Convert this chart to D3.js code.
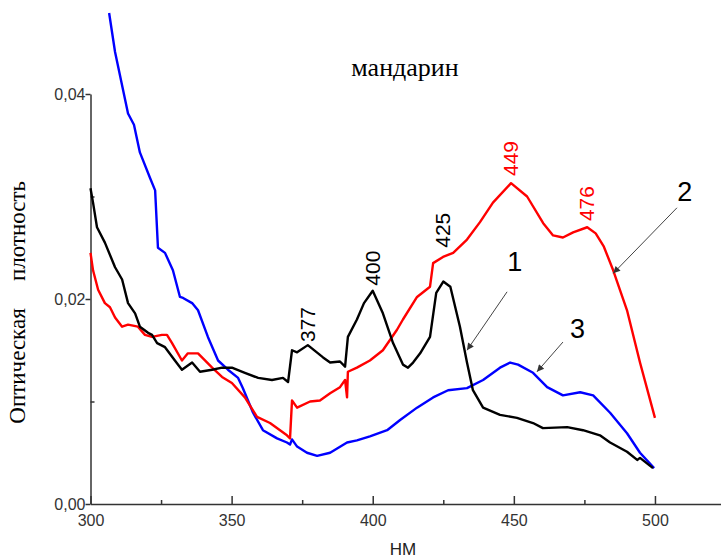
<!DOCTYPE html>
<html>
<head>
<meta charset="utf-8">
<script src="https://cdn.jsdelivr.net/npm/d3@7"></script>
<style>
  html, body { margin: 0; padding: 0; background: #fff; }
  svg { display: block; }
</style>
</head>
<body>
<svg id="chart" width="721" height="560"></svg>
<script>
// Absorption spectra of mandarin extracts: wavelength (nm) vs optical density

// Curve 1 (black)
const wl1 = [300, 300.9, 302.3, 305.1, 308.7, 311.2, 313.3, 315.8, 317.5, 320.4, 321.8, 323.6, 326.4, 329.9,
  332.4, 336.0, 338.8, 343.1, 346.6, 350.1, 354.7, 359.4, 364.3, 368.2, 370.0, 371.4, 373.2, 377.0,
  382.4, 384.9, 388.4, 390.2, 391.2, 394.4, 396.9, 400.0, 403.6, 407.2, 410.7, 412.5, 414.3, 416.8,
  420.3, 422.5, 425.0, 427.5, 430.9, 433.4, 435.5, 439.1, 445.1, 451.1, 456.8, 460.3, 468.9, 474.5,
  480.5, 484.1, 490.1, 493.7, 494.7, 499.3];
const od1 = [0.0308, 0.0294, 0.0270, 0.0255, 0.0231, 0.0219, 0.0196, 0.0186, 0.0173, 0.0167, 0.0165, 0.0157,
  0.0153, 0.0140, 0.0131, 0.0138, 0.0129, 0.0131, 0.0133, 0.0133, 0.0128, 0.0123, 0.0121, 0.0123, 0.0119,
  0.0150, 0.0148, 0.0155, 0.0143, 0.0138, 0.0139, 0.0134, 0.0163, 0.0180, 0.0196, 0.0208, 0.0186, 0.0157,
  0.0136, 0.0133, 0.0138, 0.0147, 0.0163, 0.0206, 0.0217, 0.0212, 0.0173, 0.0138, 0.0111, 0.0094, 0.0087,
  0.0084, 0.0079, 0.0074, 0.0075, 0.0072, 0.0067, 0.0060, 0.0051, 0.0043, 0.0045, 0.0035];

// Curve 2 (red)
const wl2 = [300, 300.9, 302.7, 305.1, 306.9, 308.7, 311.2, 313.3, 316.8, 319.3, 321.8, 325.3, 327.1, 328.9,
  332.4, 334.5, 338.1, 343.1, 346.6, 350.1, 354.7, 359.0, 363.6, 369.6, 370.7, 371.4, 373.2, 377.8,
  381.3, 384.9, 388.4, 390.2, 390.9, 391.2, 394.4, 399.0, 403.6, 408.6, 410.7, 415.7, 420.3, 421.4,
  424.9, 428.5, 433.4, 438.0, 442.6, 449.0, 454.7, 460.4, 463.9, 467.4, 471.0, 476.0, 479.0, 481.9,
  485.2, 490.1, 494.7, 500.0];
const od2 = [0.0245, 0.0228, 0.0209, 0.0196, 0.0192, 0.0182, 0.0173, 0.0175, 0.0173, 0.0165, 0.0163, 0.0165,
  0.0165, 0.0157, 0.0140, 0.0147, 0.0147, 0.0133, 0.0124, 0.0118, 0.0104, 0.0085, 0.0079, 0.0067, 0.0064,
  0.0101, 0.0094, 0.0100, 0.0101, 0.0108, 0.0114, 0.0121, 0.0104, 0.0129, 0.0133, 0.0140, 0.0150, 0.0170,
  0.0180, 0.0202, 0.0212, 0.0235, 0.0241, 0.0245, 0.0258, 0.0275, 0.0294, 0.0313, 0.0300, 0.0274, 0.0262,
  0.0260, 0.0265, 0.0270, 0.0264, 0.0251, 0.0228, 0.0189, 0.0138, 0.0084];

// Curve 3 (blue)
const wl3 = [306.6, 308.7, 313.3, 315.4, 317.5, 321.1, 322.9, 323.9, 326.4, 329.2, 331.7, 332.8, 336.0, 338.1,
  341.6, 345.2, 348.7, 352.3, 354.0, 357.6, 361.1, 366.1, 369.6, 370.7, 371.4, 373.2, 376.7, 380.3,
  384.9, 390.9, 394.4, 399.0, 405.1, 409.7, 415.7, 421.4, 426.7, 433.4, 439.1, 445.1, 448.7, 451.5,
  456.8, 461.8, 467.4, 473.5, 478.1, 484.1, 490.1, 494.7, 499.7];
const od3 = [0.0479, 0.0441, 0.0381, 0.0370, 0.0343, 0.0318, 0.0306, 0.0250, 0.0245, 0.0228, 0.0202, 0.0201,
  0.0196, 0.0189, 0.0163, 0.0140, 0.0131, 0.0123, 0.0113, 0.0089, 0.0072, 0.0064, 0.0060, 0.0058, 0.0063,
  0.0056, 0.0050, 0.0047, 0.0050, 0.0060, 0.0062, 0.0066, 0.0072, 0.0082, 0.0094, 0.0104, 0.0111, 0.0113,
  0.0121, 0.0133, 0.0138, 0.0136, 0.0128, 0.0114, 0.0106, 0.0109, 0.0106, 0.0089, 0.0069, 0.0050, 0.0035];

// Axis ticks
const xMajorTicks = [300, 350, 400, 450, 500];
const xMinorTicks = [325, 375, 425, 475];
const yMajorTicks = [0.00, 0.02, 0.04];
const yMinorTicks = [0.01, 0.03];

// Peak wavelengths and the optical density where each label starts
const peakText = ["377", "400", "425", "449", "476"];
const peakNm = [377, 400, 425, 449, 476];
const peakLabelOd = [0.0158, 0.0213, 0.0250, 0.0320, 0.0276];
const peakCurve = [0, 0, 0, 1, 1];

// Curve number callouts: label position and arrow (nm, optical density)
const calloutText = ["1", "2", "3"];
const calloutNm = [450.3, 510.6, 472.6];
const calloutOd = [0.0227, 0.0296, 0.0162];
const arrowFromNm = [447.6, 507.8, 467.4];
const arrowFromOd = [0.0207, 0.0289, 0.0158];
const arrowToNm = [433.4, 485.2, 458.2];
const arrowToOd = [0.0150, 0.0225, 0.0129];

const curveColors = ["#000000", "#ff0000", "#0000ff"];

const svg = d3.select("#chart");
const x = d3.scaleLinear().domain([300, 523.4]).range([90.5, 721]);
const y = d3.scaleLinear().domain([0, 0.04]).range([504, 94]);

const axisColor = "#333";
const tickFont = "'Liberation Sans', Arial, sans-serif";
const serifFont = "'Liberation Serif', 'Times New Roman', serif";

// X axis
const gx = svg.append("g").attr("transform", `translate(0,${y(0)})`)
  .call(d3.axisBottom(x).tickValues(xMajorTicks).tickSize(-8).tickSizeOuter(0)
    .tickPadding(11).tickFormat(d3.format("d")));
gx.selectAll("text").attr("font-size", 16).attr("font-family", tickFont).attr("fill", axisColor);
svg.append("g").attr("transform", `translate(0,${y(0)})`)
  .call(d3.axisBottom(x).tickValues(xMinorTicks).tickSize(-4).tickSizeOuter(0).tickFormat(""))
  .select(".domain").remove();

// Y axis
const gy = svg.append("g").attr("transform", `translate(${x(300)},0)`)
  .call(d3.axisLeft(y).tickValues(yMajorTicks).tickSize(5).tickSizeOuter(0).tickPadding(0)
    .tickFormat(d => d.toFixed(2).replace(".", ",")));
gy.selectAll("text").attr("font-size", 16).attr("font-family", tickFont).attr("fill", axisColor);
svg.append("g").attr("transform", `translate(${x(300)},0)`)
  .call(d3.axisLeft(y).tickValues(yMinorTicks).tickSize(-4).tickSizeOuter(0).tickFormat(""))
  .select(".domain").remove();

svg.selectAll(".domain, .tick line").attr("stroke", axisColor).attr("stroke-width", 1.5);

// Spectral curves
const line = d3.line().x(d => x(d[0])).y(d => y(d[1]));
const curves = [d3.zip(wl1, od1), d3.zip(wl2, od2), d3.zip(wl3, od3)];
// blue first, then red, black on top
[2, 1, 0].forEach(i => {
  svg.append("path")
    .datum(curves[i])
    .attr("fill", "none")
    .attr("stroke", curveColors[i])
    .attr("stroke-width", 2.4)
    .attr("stroke-linejoin", "round")
    .attr("d", line);
});

// Peak wavelength labels (rotated)
peakText.forEach((t, i) => {
  svg.append("text")
    .attr("transform", `translate(${x(peakNm[i]) + 7},${y(peakLabelOd[i])}) rotate(-90)`)
    .attr("font-family", tickFont)
    .attr("font-size", 21)
    .attr("fill", curveColors[peakCurve[i]])
    .text(t);
});

// Curve callouts with arrows
svg.append("defs").append("marker")
  .attr("id", "arrowhead")
  .attr("viewBox", "0 0 10 10")
  .attr("refX", 10).attr("refY", 5)
  .attr("markerWidth", 10).attr("markerHeight", 7)
  .attr("orient", "auto")
  .attr("markerUnits", "userSpaceOnUse")
  .append("path").attr("d", "M0,0 L10,5 L0,10 Z").attr("fill", "#333");

calloutText.forEach((t, i) => {
  svg.append("line")
    .attr("x1", x(arrowFromNm[i])).attr("y1", y(arrowFromOd[i]))
    .attr("x2", x(arrowToNm[i])).attr("y2", y(arrowToOd[i]))
    .attr("stroke", "#444").attr("stroke-width", 1)
    .attr("marker-end", "url(#arrowhead)");
  svg.append("text")
    .attr("x", x(calloutNm[i])).attr("y", y(calloutOd[i]))
    .attr("text-anchor", "middle")
    .attr("font-family", tickFont)
    .attr("font-size", 27)
    .attr("fill", "#000")
    .text(t);
});

// Title
svg.append("text")
  .attr("x", 405).attr("y", 76)
  .attr("text-anchor", "middle")
  .attr("font-family", serifFont)
  .attr("font-size", 26)
  .attr("fill", "#000")
  .text("мандарин");

// Axis titles
svg.append("text")
  .attr("x", 403).attr("y", 555)
  .attr("text-anchor", "middle")
  .attr("font-family", tickFont)
  .attr("font-size", 17)
  .attr("fill", "#222")
  .text("НМ");

const yTitle = svg.append("g").attr("transform", "translate(25,0) rotate(-90)");
yTitle.append("text")
  .attr("x", -366).attr("y", 0)
  .attr("text-anchor", "middle")
  .attr("font-family", serifFont)
  .attr("font-size", 23)
  .attr("fill", "#000")
  .text("Оптическая");
yTitle.append("text")
  .attr("x", -231).attr("y", 0)
  .attr("text-anchor", "middle")
  .attr("font-family", serifFont)
  .attr("font-size", 23)
  .attr("fill", "#000")
  .text("плотность");
</script>
</body>
</html>
